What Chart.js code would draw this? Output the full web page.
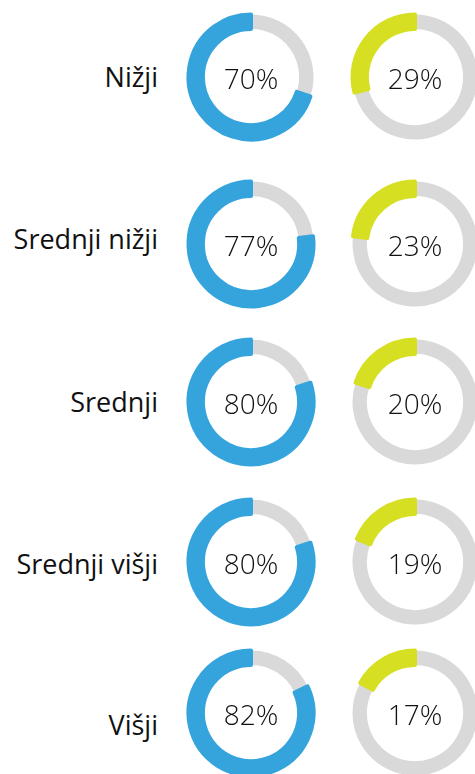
<!DOCTYPE html>
<html>
<head>
<meta charset="utf-8">
<script src="https://cdn.jsdelivr.net/npm/chart.js@4.4.1/dist/chart.umd.min.js"></script>
<style>
  html, body { margin: 0; padding: 0; background: #fff; }
  #wrap { position: relative; width: 475px; height: 774px; overflow: hidden; }
  .lbl {
    position: absolute; right: 317px; white-space: nowrap;
    font-family: "Open Sans", sans-serif; font-size: 27px; line-height: 27px;
    color: #111;
  }
  canvas { position: absolute; }
</style>
</head>
<body>
<div id="wrap"></div>
<script>
// Kategorije in vrednosti (v %)
const categories = ['Nižji', 'Srednji nižji', 'Srednji', 'Srednji višji', 'Višji'];
const blueValues = [70, 77, 80, 80, 82];
const greenValues = [29, 23, 20, 19, 17];

const blue = '#35a4dc';
const green = '#d7df23';
const grey = '#d9d9d9';

// postavitev vrstic
const ringY = [77, 243.5, 402, 561.5, 712.5];
const labelY = [77.5, 239, 402.5, 564.5, 725];
const colX = [251, 415];
const size = 150;

const wrap = document.getElementById('wrap');

// napis v sredini obroča
const centerText = {
  id: 'centerText',
  afterDraw(chart, args, opts) {
    const ctx = chart.ctx;
    const arc = chart.getDatasetMeta(0).data[0];
    ctx.save();
    ctx.font = '300 28px "Open Sans", sans-serif';
    ctx.fillStyle = '#111';
    ctx.textAlign = 'center';
    ctx.textBaseline = 'middle';
    ctx.fillText(opts.text, arc.x, arc.y + 4);
    ctx.restore();
  }
};

function makeDonut(x, y, value, color) {
  const canvas = document.createElement('canvas');
  canvas.width = size;
  canvas.height = size;
  canvas.style.left = (x - size / 2) + 'px';
  canvas.style.top = (y - size / 2) + 'px';
  canvas.style.width = size + 'px';
  canvas.style.height = size + 'px';
  wrap.appendChild(canvas);

  new Chart(canvas.getContext('2d'), {
    type: 'doughnut',
    data: {
      labels: ['ostalo', 'delež'],
      datasets: [{
        data: [100 - value, value],
        backgroundColor: [grey, color],
        borderColor: [grey, color],
        borderWidth: [0, 4],
        borderJoinStyle: 'round'
      }]
    },
    options: {
      responsive: false,
      animation: false,
      events: [],
      radius: 62.5,
      cutout: '77%',
      plugins: {
        legend: { display: false },
        tooltip: { enabled: false },
        centerText: { text: value + '%' }
      }
    },
    plugins: [centerText]
  });
}

categories.forEach((name, i) => {
  const lbl = document.createElement('div');
  lbl.className = 'lbl';
  lbl.textContent = name;
  lbl.style.top = (labelY[i] - 14.5) + 'px';
  wrap.appendChild(lbl);

  makeDonut(colX[0], ringY[i], blueValues[i], blue);
  makeDonut(colX[1], ringY[i], greenValues[i], green);
});
</script>
</body>
</html>
